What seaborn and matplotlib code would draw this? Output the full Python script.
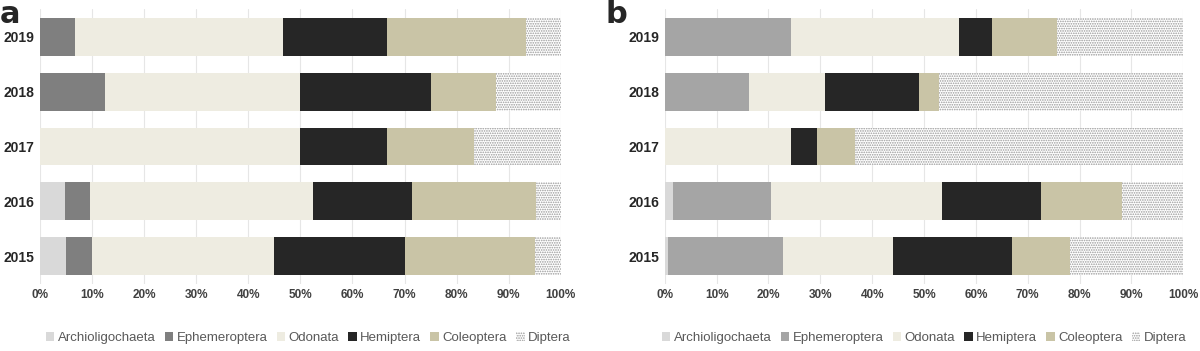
import numpy as np
import pandas as pd
import seaborn as sns
import matplotlib
matplotlib.use('Agg')
import matplotlib.pyplot as plt
from matplotlib.patches import Patch

sns.set_style('white')
plt.rcParams['font.family'] = ['Liberation Sans Narrow', 'Liberation Sans', 'DejaVu Sans']
plt.rcParams['hatch.linewidth'] = 0.8

years = ['2019', '2018', '2017', '2016', '2015']
taxa = ['Archioligochaeta', 'Ephemeroptera', 'Odonata', 'Hemiptera', 'Coleoptera', 'Diptera']
xticks = [0, 10, 20, 30, 40, 50, 60, 70, 80, 90, 100]

# panel a (%), order of years as above
arch_a = [0, 0, 0, 4.8, 5.0]
eph_a = [6.7, 12.5, 0, 4.8, 5.0]
odo_a = [40.0, 37.5, 50.0, 42.8, 35.0]
hem_a = [20.0, 25.0, 16.7, 19.0, 25.0]
col_a = [26.7, 12.5, 16.7, 23.8, 25.0]
dip_a = [6.6, 12.5, 16.6, 4.8, 5.0]

# panel b (%)
arch_b = [0, 0, 0, 1.5, 0.7]
eph_b = [24.3, 16.2, 0, 18.9, 22.1]
odo_b = [32.5, 14.7, 24.3, 33.1, 21.3]
hem_b = [6.3, 18.1, 5.0, 19.0, 22.8]
col_b = [12.5, 3.8, 7.3, 15.7, 11.2]
dip_b = [24.4, 47.2, 63.4, 11.8, 21.9]

colors_a = ['#d9d9d9', '#7f7f7f', '#eeece1', '#262626', '#c9c4a6', 'white']
colors_b = ['#d9d9d9', '#a5a5a5', '#eeece1', '#262626', '#c9c4a6', 'white']
dip_hatch = '.......'
dip_edge = '#999999'

fig = plt.figure(figsize=(12, 3.51), dpi=100)
ax_a = fig.add_axes([0.0333, 0.192, 0.434, 0.781])
ax_b = fig.add_axes([0.554, 0.192, 0.432, 0.781])


def draw(ax, series, colors, leg_x):
    df = pd.DataFrame(dict(zip(taxa, series)), index=years)
    cum = df.cumsum(axis=1)
    ax.set_axisbelow(True)
    for t, c in reversed(list(zip(taxa, colors))):
        if t == 'Diptera':
            kw = dict(hatch=dip_hatch, edgecolor=dip_edge)
        else:
            kw = dict(edgecolor='none')
        sns.barplot(x=cum[t].values, y=years, order=years, orient='h', color=c,
                    width=0.69, saturation=1, linewidth=0, ax=ax, **kw)
    ax.set_xlim(0, 100)
    ax.set_xticks(xticks)
    ax.set_xticklabels([f'{v}%' for v in xticks], fontsize=8.5, fontweight='bold', color='#404040')
    for lab in ax.get_yticklabels():
        lab.set_fontweight('bold')
        lab.set_fontsize(10)
        lab.set_color('#262626')
    ax.set_xlabel('')
    ax.set_ylabel('')
    ax.grid(axis='x', color='#e6e6e6', lw=0.8)
    ax.grid(axis='y', visible=False)
    ax.tick_params(length=0, pad=4)
    for s in ax.spines.values():
        s.set_visible(False)
    handles = []
    for t, c in zip(taxa, colors):
        if t == 'Diptera':
            handles.append(Patch(facecolor='white', edgecolor=dip_edge, hatch=dip_hatch, lw=0, label=t))
        else:
            handles.append(Patch(facecolor=c, edgecolor='none', label=t))
    ax.legend(handles=handles, loc='center', bbox_to_anchor=(leg_x, -0.2), ncol=6,
              frameon=False, handlelength=0.65, handleheight=0.65, handletextpad=0.25,
              columnspacing=0.7, labelcolor='#595959', prop={'size': 9.5},
              borderpad=0, borderaxespad=0)


draw(ax_a, [arch_a, eph_a, odo_a, hem_a, col_a, dip_a], colors_a, 0.515)
draw(ax_b, [arch_b, eph_b, odo_b, hem_b, col_b, dip_b], colors_b, 0.5)

fig.text(0.0, 0.935, 'a', fontsize=22, fontweight='bold', va='baseline', ha='left', family='DejaVu Sans')
fig.text(0.505, 0.935, 'b', fontsize=22, fontweight='bold', va='baseline', ha='left', family='DejaVu Sans')

fig.savefig('out.png', dpi=100)
